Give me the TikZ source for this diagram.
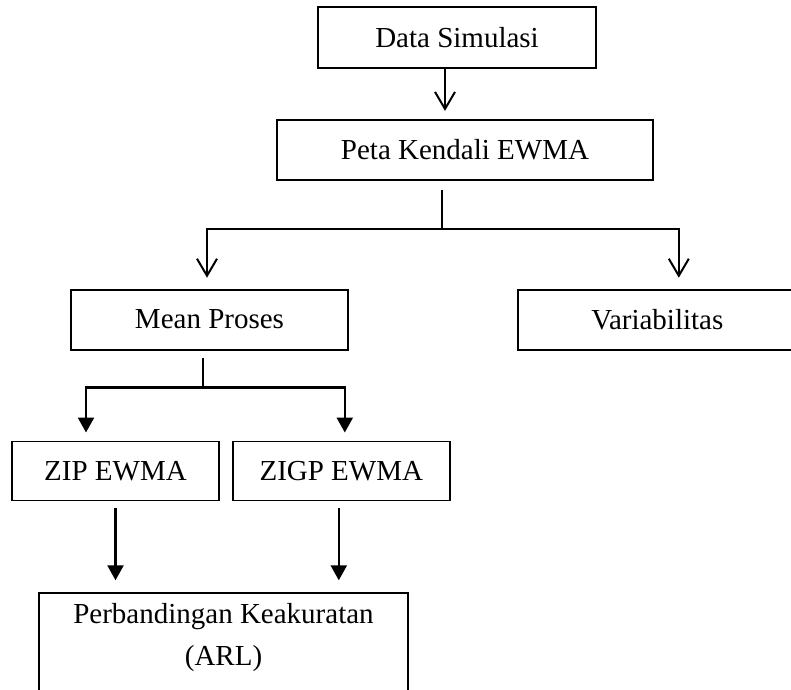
\documentclass[tikz,border=0pt]{standalone}
\usepackage{fontspec}
\setmainfont{Liberation Serif}
\usetikzlibrary{arrows.meta,positioning}
\tikzset{
  box/.style={draw=black, line width=1.8pt, fill=white, inner sep=0pt, align=center, font=\fontsize{29}{42}\selectfont},
  link/.style={line width=2.4pt, draw=black},
  openarrow/.style={-{Straight Barb[length=17pt,width=20pt,line width=2pt]}, line width=2.2pt, draw=black},
  solidarrow/.style={-{Triangle[length=15pt,width=16pt]}, line width=2.4pt, draw=black}
}
\begin{document}
\begin{tikzpicture}[x=1pt, y=-1pt]
  \useasboundingbox (0,0) rectangle (791,689);
  \clip (0,0) rectangle (791,689);
  \fill[white] (0,0) rectangle (791,689);

  \node[box, minimum width=278pt, minimum height=61pt] (data) at (457,37.5) {Data Simulasi};
  \node[box, below=50pt of data, xshift=8pt, minimum width=376pt, minimum height=60pt] (peta) {Peta Kendali EWMA};
  \draw[openarrow] ([xshift=-12pt]data.south) -- ([xshift=-20pt,yshift=8pt]peta.north);

  \node[box, below=108pt of peta, xshift=-255.5pt, minimum width=277pt, minimum height=60pt] (mean) {Mean Proses};
  \node[box, right=168pt of mean, minimum width=279pt, minimum height=60pt] (var) {Variabilitas};
  \draw[link] ([xshift=-23pt,yshift=-9pt]peta.south) -- ++(0,39) coordinate (fork1);
  \draw[openarrow] (fork1) -| ([xshift=-2.5pt,yshift=11pt]mean.north);
  \draw[openarrow] (fork1) -| ([xshift=21.5pt,yshift=11pt]var.north);

  \node[box, below=90pt of mean, xshift=-94pt, minimum width=207pt, minimum height=59pt] (zip) {ZIP EWMA};
  \node[box, right=12pt of zip, minimum width=217pt, minimum height=59pt] (zigp) {ZIGP EWMA};
  \draw[link] ([xshift=-6.5pt,yshift=-7pt]mean.south) -- ++(0,30) coordinate (fork2);
  \draw[solidarrow] (fork2) -| ([xshift=-29.5pt,yshift=8pt]zip.north);
  \draw[solidarrow] (fork2) -| ([xshift=3.5pt,yshift=8pt]zigp.north);

  \node[box, below=91pt of zip, xshift=108pt, minimum width=369pt, inner ysep=10pt, text depth=100pt] (arl) {Perbandingan Keakuratan\\(ARL)};
  \draw[solidarrow] ([yshift=-7pt]zip.south) -- ([yshift=12pt]zip.south |- arl.north);
  \draw[solidarrow] ([xshift=-2.5pt,yshift=-7pt]zigp.south) -- ([xshift=-2.5pt,yshift=12pt]zigp.south |- arl.north);
\end{tikzpicture}
\end{document}
